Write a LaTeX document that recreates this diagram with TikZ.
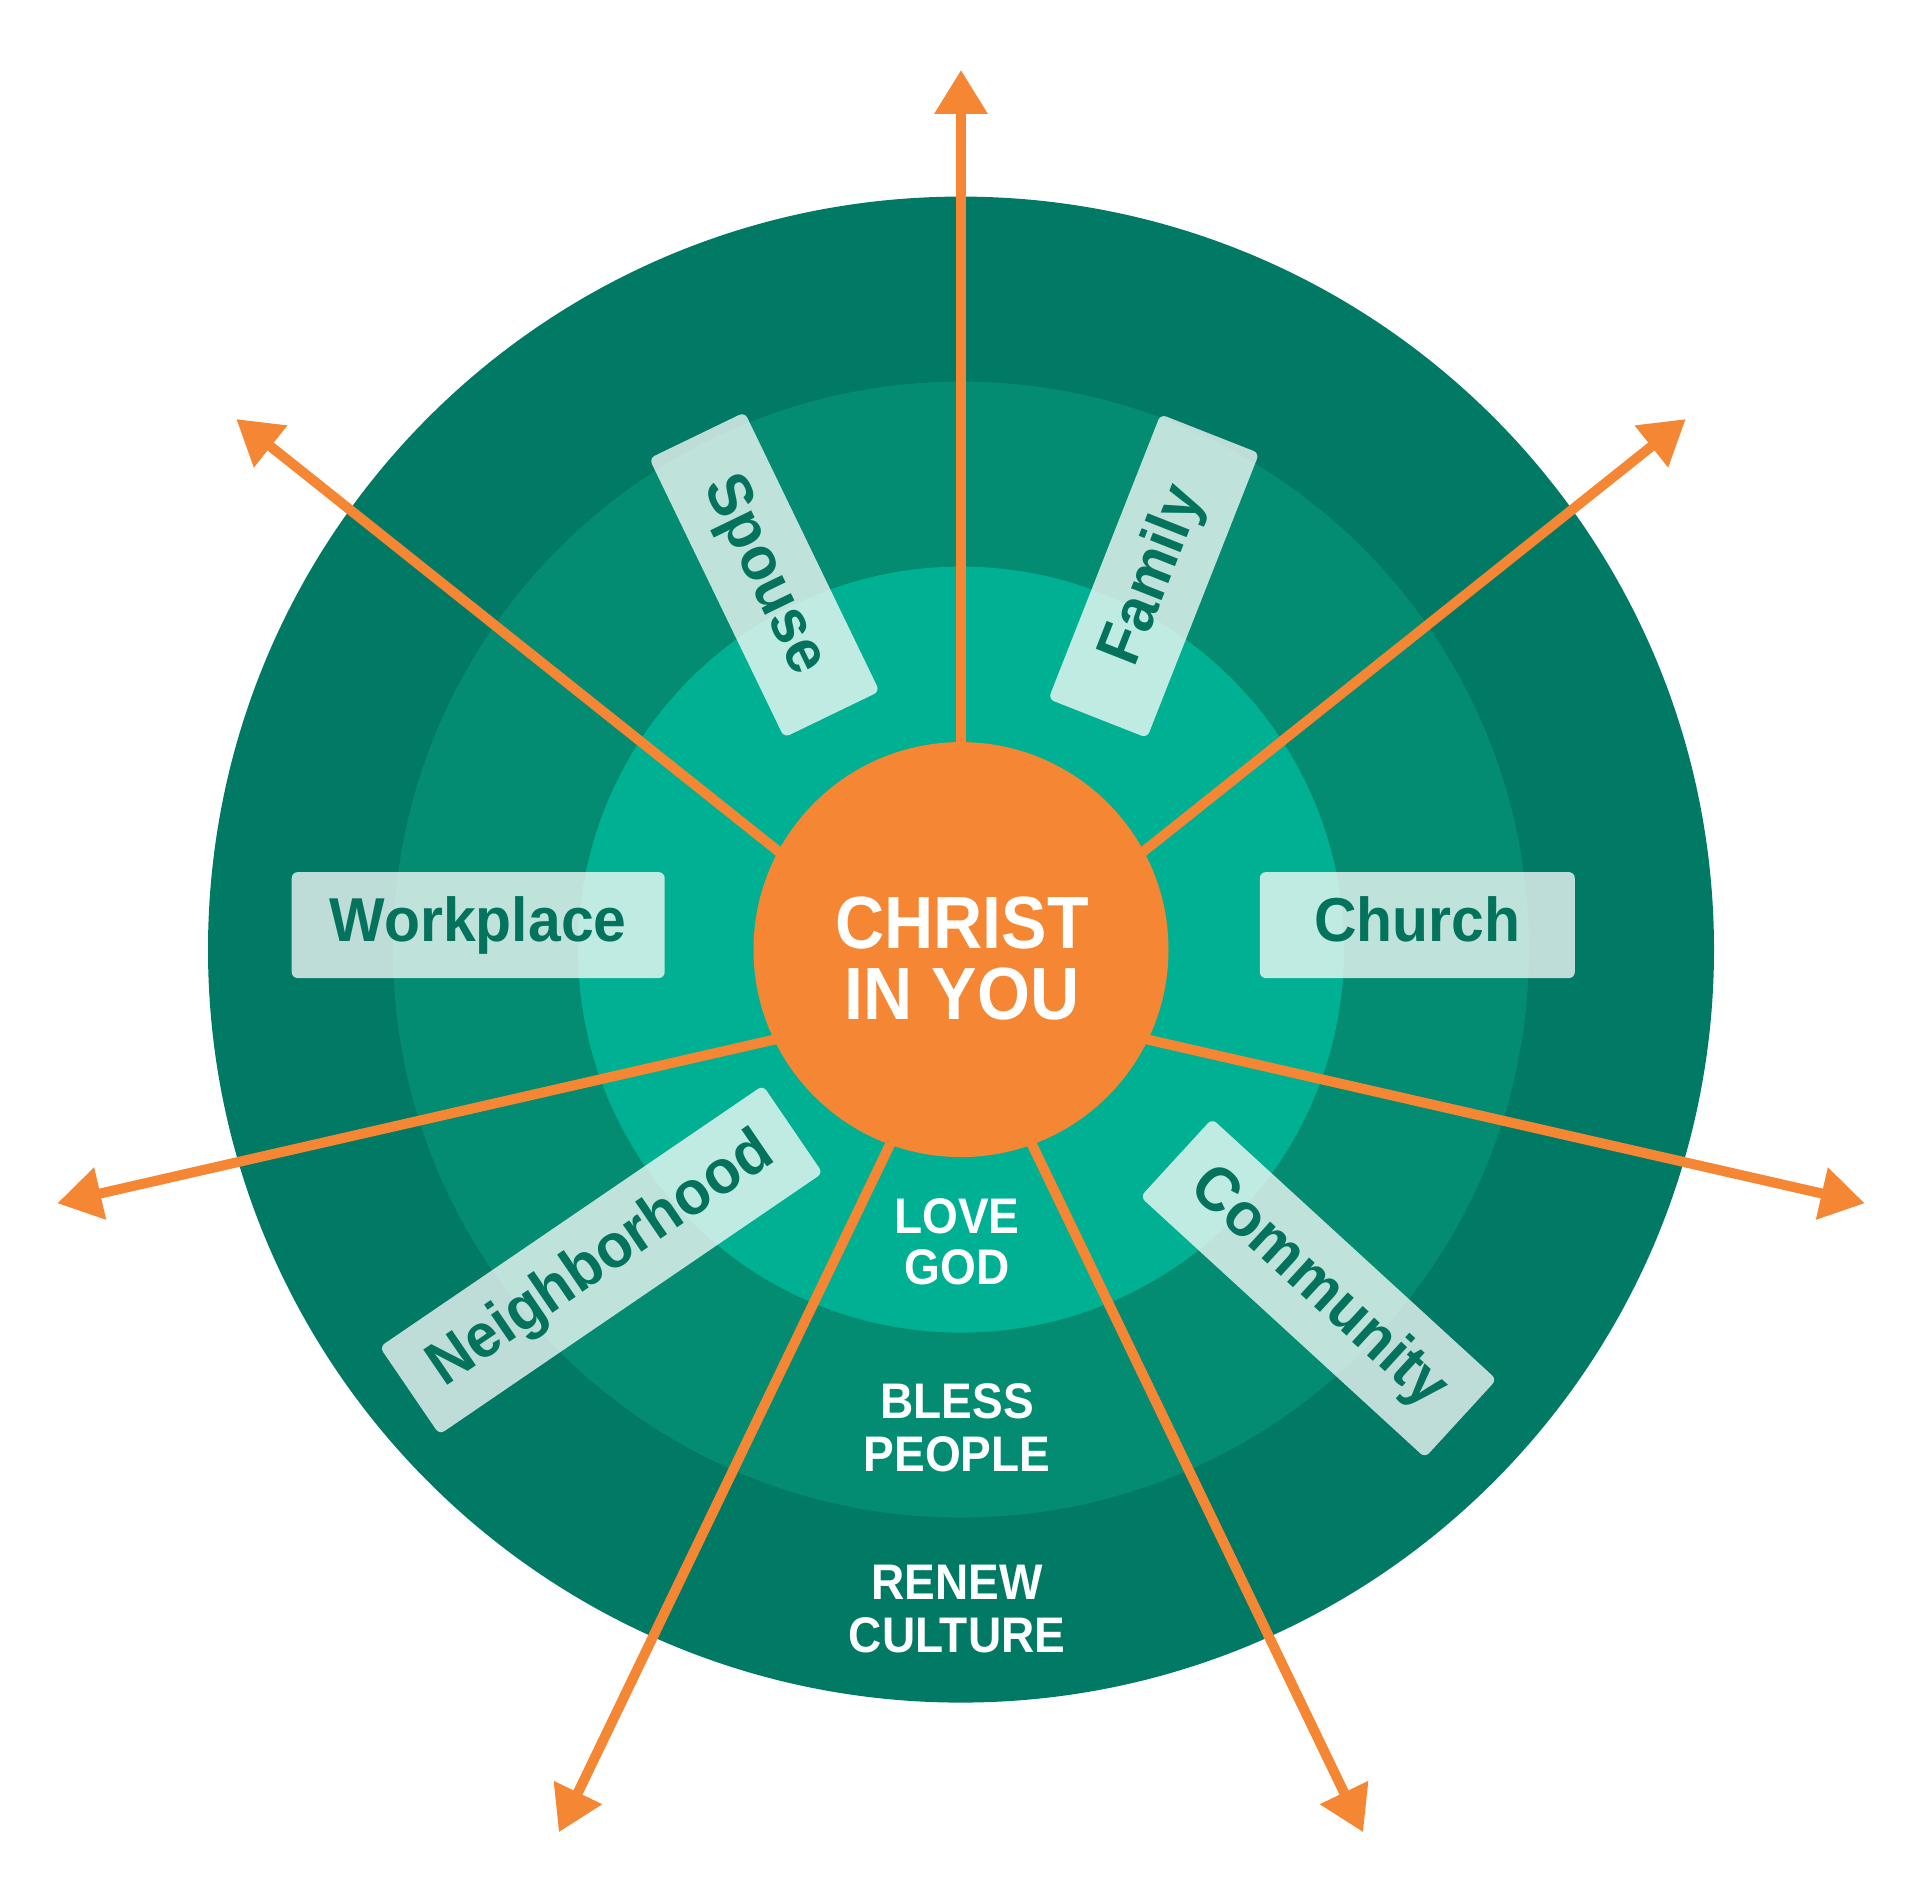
\documentclass[tikz,border=0pt]{standalone}
\usepackage{fontspec}
\setmainfont[FakeStretch=0.92]{Liberation Sans}
\newfontfamily\lblfont[FakeStretch=0.95]{Liberation Sans}
\usetikzlibrary{arrows.meta}
\definecolor{ringA}{HTML}{007A64}
\definecolor{ringB}{HTML}{038C71}
\definecolor{ringC}{HTML}{00B092}
\definecolor{orng}{HTML}{F58634}
\definecolor{lbltext}{HTML}{03735E}
\begin{document}
\begin{tikzpicture}[x=1pt,y=1pt,
  ray/.style={draw=orng, line width=10pt, -{Triangle[width=51pt,length=44pt]}},
  lbl/.style={fill=white, fill opacity=0.75, text opacity=1, text=lbltext,
    rounded corners=6pt, minimum height=106pt, inner sep=0pt,
    font=\lblfont\bfseries\fontsize{62}{62}\selectfont,
    text height=46pt, text depth=13pt},
  ringtxt/.style={text=white, font=\bfseries\fontsize{50}{50}\selectfont, anchor=base, inner sep=0pt},
  coretxt/.style={text=white, font=\bfseries\fontsize{74}{74}\selectfont, anchor=base, inner sep=0pt}]
\useasboundingbox (0,0) rectangle (1920,1899);
\fill[white] (0,0) rectangle (1920,1899);
\coordinate (C) at (961,949.4);
\coordinate (P) at (961,902);
% rings
\fill[ringA] (C) circle (753pt);
\fill[ringB] (C) circle (568pt);
\fill[ringC] (C) circle (383pt);
% ray end points
\path (P) ++(90:927) coordinate (t1);
\path (P) ++(38.57:927) coordinate (t2);
\path (P) ++(-12.86:927) coordinate (t3);
\path (P) ++(-64.29:927) coordinate (t4);
\path (P) ++(-115.71:927) coordinate (t5);
\path (P) ++(192.86:927) coordinate (t6);
\path (P) ++(141.43:927) coordinate (t7);
\foreach \t in {t1,t2,t3,t4,t5,t6,t7}{\draw[ray] (P) -- (\t);}
% core
\node[circle, fill=orng, minimum size=415pt, inner sep=0pt] (core) at (C) {};
\node[coretxt] (christ) at (962,950) {CHRIST};
\node[coretxt] (inyou) at (962,879) {IN YOU};
% labels
\node[lbl, minimum width=310pt, rotate=-64.2] (spouse) at (764.4,1324.1) {Spouse};
\node[lbl, minimum width=306pt, rotate=68.5] (family) at (1153.8,1322.9) {Family};
\node[lbl, minimum width=386pt, rotate=-42.5] (community) at (1318.5,610.8) {Community};
\node[lbl, minimum width=464pt, rotate=34.3] (neighborhood) at (601.2,639) {Neighborhood};
\node[lbl, minimum width=373pt] (workplace) at (478.2,973.9) {Workplace};
\node[lbl, minimum width=315pt] (church) at (1417.3,973.9) {Church};
% ring texts
\node[ringtxt] (love) at (957,665) {LOVE};
\node[ringtxt] (god) at (957,614) {GOD};
\node[ringtxt] (bless) at (957,480) {BLESS};
\node[ringtxt] (people) at (957,427.3) {PEOPLE};
\node[ringtxt] (renew) at (957,299) {RENEW};
\node[ringtxt] (culture) at (957,246.3) {CULTURE};
\end{tikzpicture}
\end{document}
